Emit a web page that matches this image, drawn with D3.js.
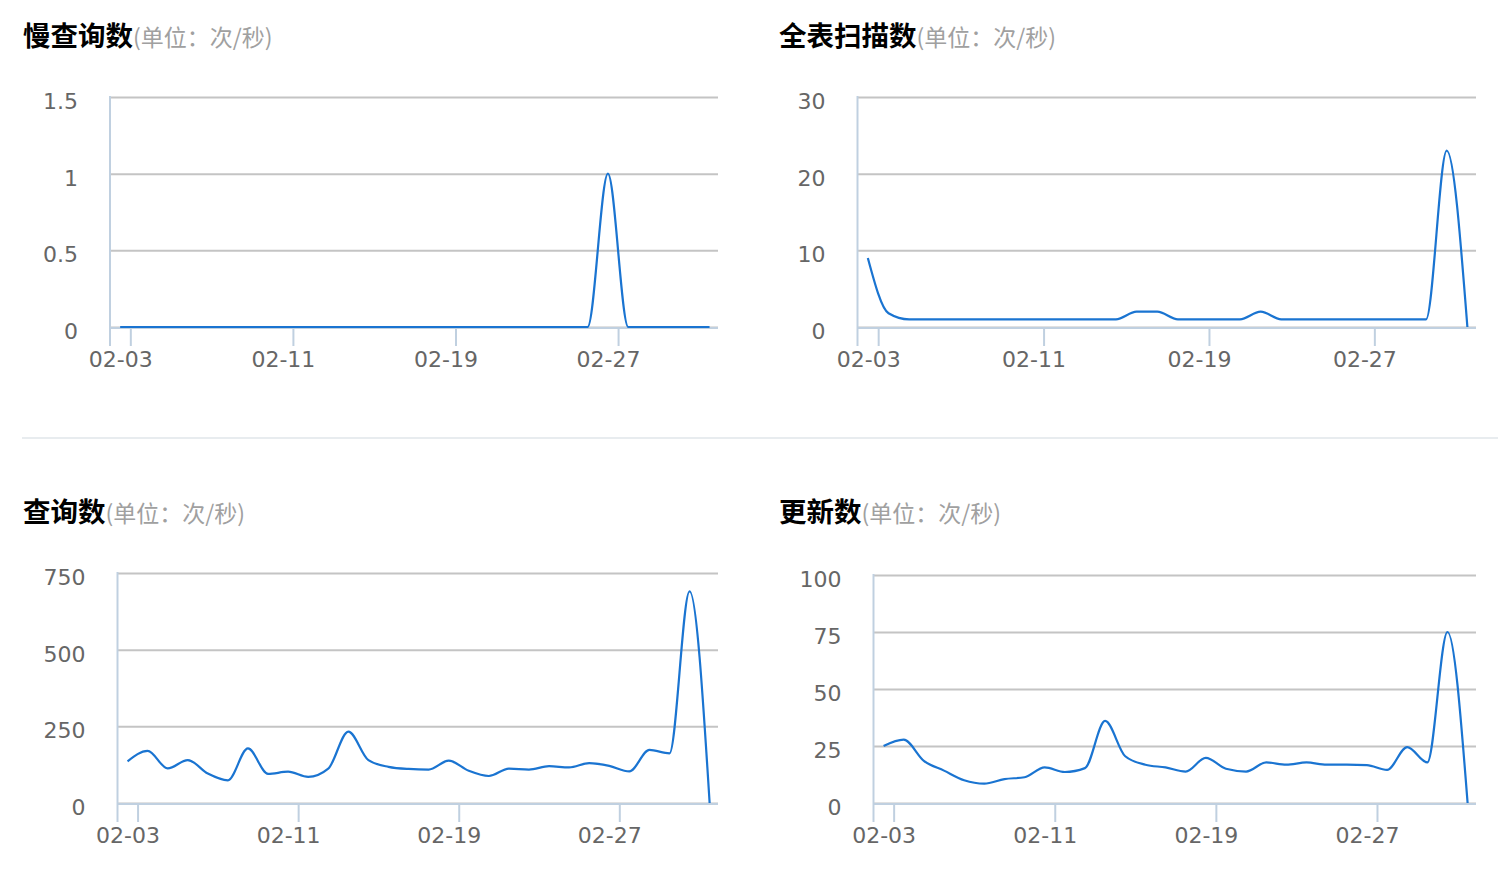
<!DOCTYPE html>
<html>
<head>
<meta charset="utf-8">
<script src="https://cdn.jsdelivr.net/npm/d3@7/dist/d3.min.js"></script>
<style>
  html, body { margin: 0; padding: 0; background: #fff; }
  svg { display: block; }
</style>
</head>
<body>
<svg id="chart" width="1498" height="878"></svg>
<script>
// one point per day (taken at noon), 02-02 .. 03-03
const days = ["02-02","02-03","02-04","02-05","02-06","02-07","02-08","02-09","02-10","02-11",
              "02-12","02-13","02-14","02-15","02-16","02-17","02-18","02-19","02-20","02-21",
              "02-22","02-23","02-24","02-25","02-26","02-27","02-28","03-01","03-02","03-03"];

const slowQueries = [0,0,0,0,0,0,0,0,0,0, 0,0,0,0,0,0,0,0,0,0, 0,0,0,0,1,0,0,0,0,0];
const fullScans   = [9,1.8,1,1,1,1,1,1,1,1, 1,1,1,2,2,1,1,1,1,2, 1,1,1,1,1,1,1,1,23,0];
const queries     = [136,170,113,140,96,74,178,95,102,85, 112,233,140,118,111,109,138,105,88,112,
                     109,120,116,130,121,103,173,162,690,0];
const updates     = [25,27.8,18.5,14.2,10,8.5,10.5,11.3,15.6,13.6, 15.3,36,20.5,16.8,15.6,13.8,19.8,15,13.8,17.8,
                     16.8,17.8,16.8,16.8,16.6,14.5,24.5,17.8,75,0];

const xTickLabels = ["02-03","02-11","02-19","02-27"];
const yTicksSlow    = [0, 0.5, 1, 1.5];
const yTicksScans   = [0, 10, 20, 30];
const yTicksQueries = [0, 250, 500, 750];
const yTicksUpdates = [0, 25, 50, 75, 100];

const titles = ["慢查询数", "全表扫描数", "查询数", "更新数"];
const unitText = "(单位：次/秒)";

const YEAR = 2019;
const parseDay = d3.timeParse("%Y-%m-%d %H:%M");
const dates = days.map(d => parseDay(`${YEAR}-${d} 12:00`));
const tickDates = xTickLabels.map(d => parseDay(`${YEAR}-${d} 00:00`));

// layout of each panel (plot area + title)
const panels = [
  {title: titles[0], values: slowQueries, yTicks: yTicksSlow,    left: 110,   right: 718,  top: 97,  bottom: 327, tx: 23,  ty: 46},
  {title: titles[1], values: fullScans,   yTicks: yTicksScans,   left: 857.5, right: 1476, top: 97,  bottom: 327, tx: 779, ty: 46},
  {title: titles[2], values: queries,     yTicks: yTicksQueries, left: 117.5, right: 718,  top: 573, bottom: 803, tx: 23,  ty: 522},
  {title: titles[3], values: updates,     yTicks: yTicksUpdates, left: 873.5, right: 1476, top: 575, bottom: 803, tx: 779, ty: 522}
];

const svg = d3.select("#chart");
const LINE = "#1a74d1", GRID = "#c4c4c4", AXIS = "#c0d0e0", LABEL = "#666";
const NUM_FONT = "'DejaVu Sans', 'Lucida Grande', sans-serif";
const CJK_FONT = "'Noto Sans CJK SC', sans-serif";

// divider between the two rows
svg.append("line")
  .attr("x1", 22).attr("x2", 1498)
  .attr("y1", 438).attr("y2", 438)
  .attr("stroke", "#e8ecef").attr("stroke-width", 2);

panels.forEach(p => {
  const g = svg.append("g");

  const title = g.append("text")
    .attr("x", p.tx).attr("y", p.ty)
    .attr("font-family", CJK_FONT);
  title.append("tspan")
    .attr("font-size", 27.5).attr("font-weight", "bold").attr("fill", "#000")
    .text(p.title);
  title.append("tspan")
    .attr("font-size", 23).attr("fill", "#a0a0a0")
    .text(unitText);

  const x = d3.scaleTime()
    .domain([d3.timeHour.offset(dates[0], -12), d3.timeHour.offset(dates[dates.length - 1], 10)])
    .range([p.left, p.right]);
  const y = d3.scaleLinear()
    .domain([0, d3.max(p.yTicks)])
    .range([p.bottom, p.top]);

  // y axis: labels + grid lines
  const ya = g.append("g")
    .attr("transform", `translate(${p.left},0)`)
    .call(d3.axisLeft(y).tickValues(p.yTicks).tickSize(-(p.right - p.left)).tickPadding(32).tickFormat(d => String(d)));
  ya.select(".domain").remove();
  ya.selectAll(".tick line").attr("stroke", GRID).attr("stroke-width", 2);
  ya.selectAll(".tick text")
    .attr("fill", LABEL).attr("font-size", 22).attr("font-family", NUM_FONT)
    .attr("dy", "0.52em");

  // x axis
  const xa = g.append("g")
    .attr("transform", `translate(0,${p.bottom + 1})`)
    .call(d3.axisBottom(x).tickValues(tickDates).tickSize(18).tickPadding(5).tickFormat(d3.timeFormat("%m-%d")));
  xa.select(".domain").remove();
  xa.selectAll(".tick line").attr("stroke", AXIS).attr("stroke-width", 2);
  xa.selectAll(".tick text")
    .attr("fill", LABEL).attr("font-size", 22).attr("font-family", NUM_FONT)
    .attr("dx", -10);

  // axis lines
  g.append("line")
    .attr("x1", p.left).attr("x2", p.right)
    .attr("y1", p.bottom + 1).attr("y2", p.bottom + 1)
    .attr("stroke", AXIS).attr("stroke-width", 2);
  g.append("line")
    .attr("x1", p.left).attr("x2", p.left)
    .attr("y1", p.top - 1).attr("y2", p.bottom + 19)
    .attr("stroke", AXIS).attr("stroke-width", 2);

  const data = dates.map((d, i) => ({date: d, value: p.values[i]}));
  const line = d3.line()
    .x(d => x(d.date))
    .y(d => y(d.value))
    .curve(d3.curveMonotoneX);

  g.append("path")
    .datum(data)
    .attr("fill", "none")
    .attr("stroke", LINE)
    .attr("stroke-width", 2.2)
    .attr("stroke-linejoin", "round")
    .attr("d", line);
});
</script>
</body>
</html>
